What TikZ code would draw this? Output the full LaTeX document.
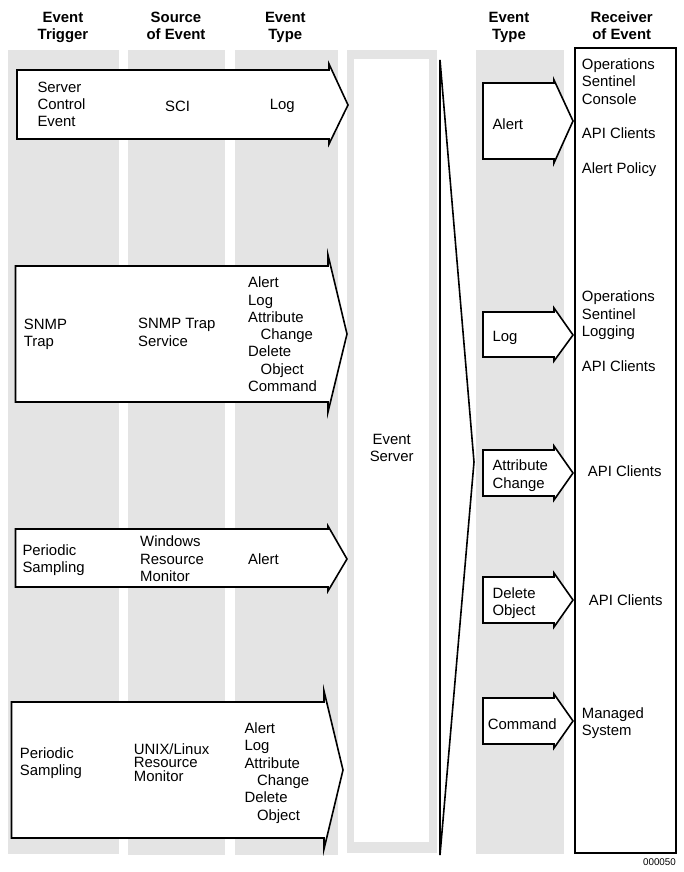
\documentclass[tikz,border=0pt]{standalone}
\usepackage{fontspec}
\setmainfont{Liberation Sans}
\tikzset{
  band/.style={fill=bandgray,draw=none},
  flow/.style={draw=black,fill=white,line width=1.6pt,miter limit=10,line join=miter},
  lbl/.style={font=\fontsize{14.9}{17.3}\selectfont,align=left,inner sep=0pt,anchor=north west,yshift=12.11pt},
  hdr/.style={font=\fontsize{14.9}{17.3}\selectfont\bfseries,align=center,inner sep=0pt,anchor=north,yshift=12.11pt},
  ctr/.style={font=\fontsize{14.9}{17.3}\selectfont,align=center,inner sep=0pt,anchor=north,yshift=12.11pt}
}
\definecolor{bandgray}{HTML}{E4E4E4}
\newcommand{\ind}{\hspace*{12.5pt}}
\newcommand{\flowarrow}[7]{% left, top, bottom, headx, headtop, headbottom, tip
  \draw[flow] (#1,#2) -- (#4,#2) -- (#4,#5) -- (#7) -- (#4,#6) -- (#4,#3) -- (#1,#3) -- cycle;}
\begin{document}
\begin{tikzpicture}[x=1pt,y=-1pt]
\useasboundingbox (0,0) rectangle (684,872);
% bands
\fill[band] (8,50) rectangle (119,854);
\fill[band] (128,50) rectangle (225,855);
\fill[band] (235,50) rectangle (338,855);
\fill[band] (347,50.5) rectangle (437,853);
\fill[white] (354,59) rectangle (429,842);
\fill[band] (476,50) rectangle (564,854);
% tips
\coordinate (t1) at (348,105);
\coordinate (t2) at (347,334);
\coordinate (t3) at (347,559);
\coordinate (t4) at (343,770);
\coordinate (r1) at (573,121);
\coordinate (r2) at (573,335);
\coordinate (r3) at (573,473);
\coordinate (r4) at (573,600);
\coordinate (r5) at (573,721);
\coordinate (st) at (474,462);
% left arrows
\flowarrow{17}{70}{139}{329}{64}{144}{t1}
\flowarrow{15.5}{266}{402}{328}{255}{412}{t2}
\flowarrow{15.5}{529}{587}{328}{526}{591}{t3}
\flowarrow{11.5}{702}{838}{324}{691}{849}{t4}
% server arrow
\draw[flow] (440,60) -- (st) -- (440,855) -- cycle;
% right arrows
\flowarrow{483}{83}{159}{554}{80}{163}{r1}
\flowarrow{483}{312}{357}{554}{308}{361}{r2}
\flowarrow{483}{450}{496}{554}{446}{500}{r3}
\flowarrow{483}{577}{623}{554}{573}{627}{r4}
\flowarrow{483}{698}{744}{554}{694}{748}{r5}
% receiver box
\draw[draw=black,line width=1.6pt,fill=white] (575,48) rectangle (676,853);
% headers
\node[hdr] (h1) at (63,22) {\strut Event\\Trigger};
\node[hdr] (h2) at (176,22) {\strut Source\\of Event};
\node[hdr] (h3) at (285.3,22) {\strut Event\\Type};
\node[hdr] (h4) at (509,22) {\strut Event\\Type};
\node[hdr] (h5) at (621.7,22) {\strut Receiver\\of Event};
% row 1
\node[lbl] (a1) at (37.3,92) {\strut Server\\Control\\Event};
\node[lbl] (b1) at (165,111.7) {\strut SCI};
\node[lbl] (c1) at (269.7,109) {\strut Log};
% row 2
\node[lbl] (a2) at (23.7,329) {\strut SNMP\\Trap};
\node[lbl] (b2) at (138,328.5) {\strut SNMP Trap\\Service};
\node[lbl] (c2) at (248,287.5) {\strut Alert\\Log\\Attribute\\\ind Change\\Delete\\\ind Object\\Command};
% row 3
\node[lbl] (a3) at (22.3,555) {\strut Periodic\\Sampling};
\node[lbl] (b3) at (140,546.7) {\strut Windows\\Resource\\Monitor};
\node[lbl] (c3) at (248,564) {\strut Alert};
% row 4
\node[lbl] (a4) at (19.7,758) {\strut Periodic\\Sampling};
\node[lbl] (b4) at (133.7,754) {\strut UNIX/Linux\\[-3.6pt]Resource\\[-3.6pt]Monitor};
\node[lbl] (c4) at (244.3,733.3) {\strut Alert\\Log\\Attribute\\\ind Change\\Delete\\\ind Object};
% server
\node[ctr] (srv) at (391.7,444.3) {\strut Event\\Server};
% right types
\node[lbl] (d1) at (492.3,129.7) {\strut Alert};
\node[lbl] (d2) at (492.3,341.7) {\strut Log};
\node[lbl] (d3) at (492.3,470.7) {\strut Attribute\\Change};
\node[lbl] (d4) at (492.3,598) {\strut Delete\\Object};
\node[lbl] (d5) at (487.7,729.3) {\strut Command};
% receivers
\node[lbl] (e1) at (581.7,69.3) {\strut Operations\\Sentinel\\Console};
\node[lbl] (e2) at (581.7,138.7) {\strut API Clients};
\node[lbl] (e3) at (581.7,173.3) {\strut Alert Policy};
\node[lbl] (e4) at (581.7,301.7) {\strut Operations\\Sentinel\\Logging};
\node[lbl] (e5) at (581.7,371) {\strut API Clients};
\node[lbl] (e6) at (587.7,476.7) {\strut API Clients};
\node[lbl] (e7) at (588.7,605) {\strut API Clients};
\node[lbl] (e8) at (581.7,718.3) {\strut Managed\\System};
\node[font=\fontsize{9.8}{11}\selectfont,inner sep=0pt,anchor=base east] (id) at (676,865) {000050};
\end{tikzpicture}
\end{document}
